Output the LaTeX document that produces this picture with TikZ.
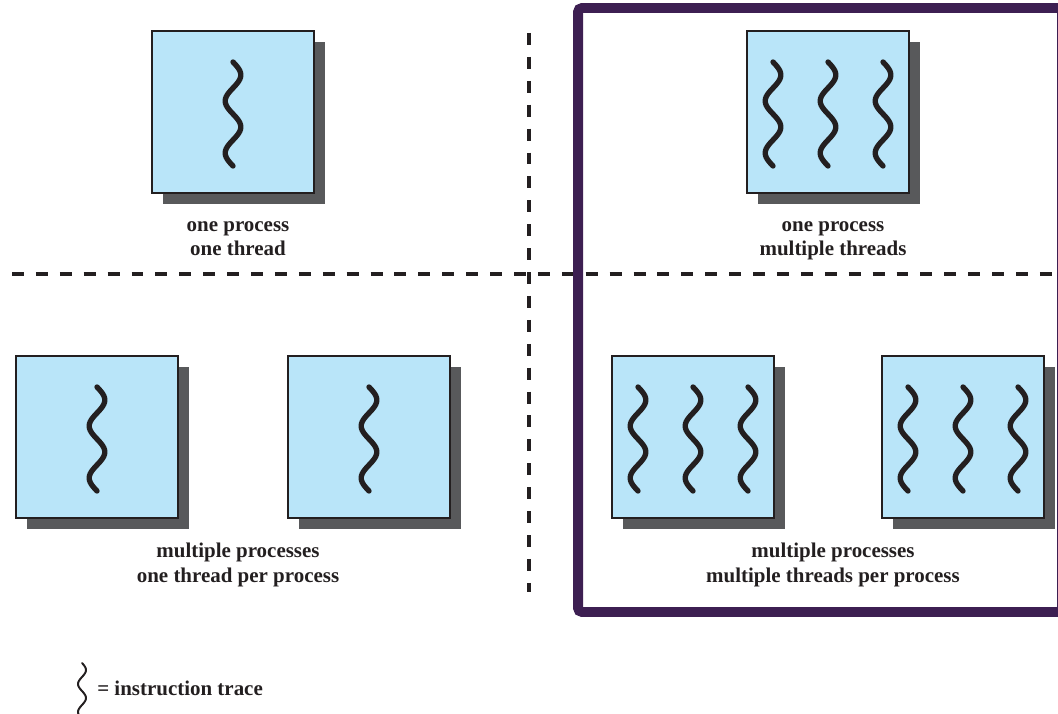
\documentclass[tikz,border=0pt]{standalone}
\usepackage{fontspec}
\setmainfont{Liberation Serif}
\usepackage{xcolor}
\usepackage{tikz}
\usetikzlibrary{shadows,calc}

\definecolor{boxblue}{HTML}{B9E5F9}
\definecolor{shadowgray}{HTML}{58595B}
\definecolor{framepurple}{HTML}{3D1F52}
\definecolor{inkblack}{HTML}{231F20}

\tikzset{
  procbox/.style={draw=inkblack, fill=boxblue, line width=1.8pt, minimum size=115.2pt, inner sep=0pt,
    drop shadow={shadow xshift=7.8pt, shadow yshift=-7.8pt, fill=shadowgray, opacity=1}},
  trace/.style={draw=inkblack, line width=3.8pt, line cap=round},
  keytrace/.style={draw=inkblack, line width=1.4pt, line cap=round},
  divider/.style={draw=inkblack, line width=2.6pt, dash pattern=on 8.5pt off 8.5pt},
  frame/.style={draw=framepurple, line width=7.1pt, rounded corners=3pt},
  caption/.style={font=\fontsize{14.9}{17.5}\selectfont\bfseries, text=inkblack, align=center, inner sep=0pt},
}

% one instruction trace inside box #1, shifted by #2 sideways
\newcommand{\threadtrace}[2]{%
  \coordinate (tc) at ([shift={(#2,2)}]#1.center);
  \draw[trace, shift={(tc)}]
    plot[variable=\t, domain=-52:52, samples=61, smooth] ({7.8*sin(\t*6.923)}, \t);}

\begin{document}
\begin{tikzpicture}[x=0.025cm, y=-0.025cm]
\useasboundingbox (0,0) rectangle (1058,714);

% dividers
\draw[divider] (12,274) -- (1070,274);
\draw[divider] (529,33) -- (529,592);
\draw[frame] (578,8) rectangle (1062,612);

% one process, one thread
\node[procbox] (p1) at (233,112) {};
\threadtrace{p1}{0}
\node[caption, anchor=base] (l1) at (238,256) {one process\\one thread};

% one process, multiple threads
\node[procbox] (p2) at (828,112) {};
\foreach \dx in {-55,0,55} {\threadtrace{p2}{\dx}}
\node[caption, anchor=base] (l2) at (833,256) {one process\\multiple threads};

% multiple processes, one thread each
\node[procbox] (p3) at (97,437) {};
\node[procbox] (p4) at (369,437) {};
\threadtrace{p3}{0}
\threadtrace{p4}{0}
\node[caption, anchor=base] (l3) at (238,582) {multiple processes\\one thread per process};

% multiple processes, multiple threads each
\node[procbox] (p5) at (693,437) {};
\node[procbox] (p6) at (963,437) {};
\foreach \dx in {-55,0,55} {\threadtrace{p5}{\dx} \threadtrace{p6}{\dx}}
\node[caption, anchor=base] (l4) at (833,582) {multiple processes\\multiple threads per process};

% key
\coordinate (keytop) at (82,663);
\draw[keytrace, shift={(keytop)}]
  plot[variable=\t, domain=0:56, samples=41, smooth] ({4*sin(\t*12.857)}, \t);
\node[caption, anchor=base west] (key) at (97,695) {= instruction trace};
\end{tikzpicture}
\end{document}
